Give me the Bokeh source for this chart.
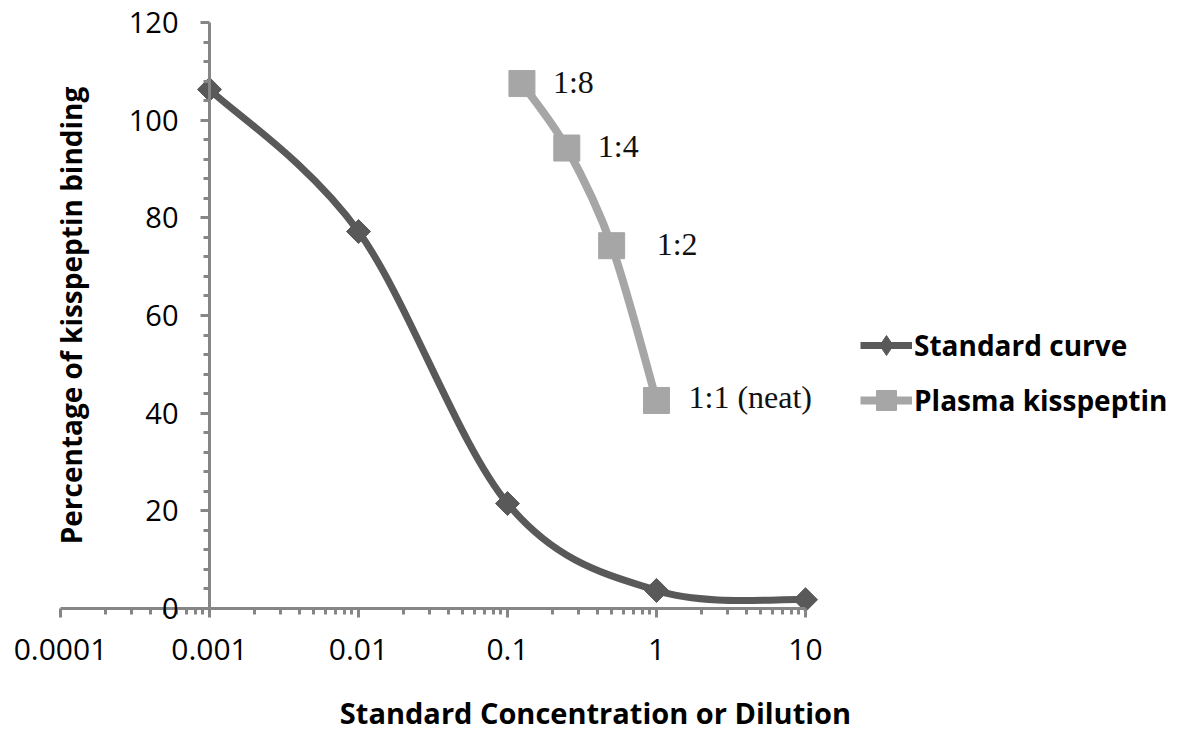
import numpy as np
from bokeh.plotting import figure
from bokeh.models import (Range1d, FixedTicker, Legend, LegendItem, Label,
                          ColumnDataSource, CustomJSTickFormatter)
from bokeh.core.properties import value
from bokeh.embed import file_html
from bokeh.resources import INLINE

# ---------------- data ----------------
std_conc = [0.001, 0.01, 0.1, 1, 10]
std_binding = [106.3, 77.2, 21.5, 3.7, 1.8]

plasma_dilution = [0.125, 0.25, 0.5, 1]
plasma_binding = [107.5, 94.3, 74.3, 42.6]
plasma_labels = ["1:8", "1:4", "1:2", "1:1 (neat)"]

x_ticks = [0.0001, 0.001, 0.01, 0.1, 1, 10]
y_ticks = [0, 20, 40, 60, 80, 100, 120]

x_title = "Standard Concentration or Dilution"
y_title = "Percentage of kisspeptin binding"
series_names = ["Standard curve", "Plasma kisspeptin"]

# ---------------- layout / styles ----------------
W, H = 1182, 732
YAXIS_PX, DECADE_PX = 209.0, 149.0     # pixel of x=0.001, pixels per decade
ZERO_PX, UNIT_PX = 608.0, 4.883        # pixel of y=0, pixels per y unit
label_dx = [31, 31, 45, 32]
label_dy = [-2, -2, -2, -3]
STD_COLOR = "#595959"
PL_COLOR = "#a6a6a6"
AXIS_COLOR = "#868686"
FONT = "Open Sans"

x_lo = 10 ** (-3 - YAXIS_PX / DECADE_PX)
x_hi = 10 ** (-3 + (W - YAXIS_PX) / DECADE_PX)
y_hi = ZERO_PX / UNIT_PX
y_lo = -(H - ZERO_PX) / UNIT_PX


def smooth_segments(xs, ys, t=1.0 / 6.0):
    """Bezier control points (Catmull-Rom style smoothing) in log-x space."""
    lx = np.log10(np.asarray(xs, dtype=float))
    y = np.asarray(ys, dtype=float)
    n = len(lx)
    out = dict(x0=[], y0=[], x1=[], y1=[], cx0=[], cy0=[], cx1=[], cy1=[])
    for i in range(n - 1):
        i0, i3 = max(i - 1, 0), min(i + 2, n - 1)
        c1x = lx[i] + (lx[i + 1] - lx[i0]) * t
        c1y = y[i] + (y[i + 1] - y[i0]) * t
        c2x = lx[i + 1] - (lx[i3] - lx[i]) * t
        c2y = y[i + 1] - (y[i3] - y[i]) * t
        out["x0"].append(10 ** lx[i]); out["y0"].append(y[i])
        out["x1"].append(10 ** lx[i + 1]); out["y1"].append(y[i + 1])
        out["cx0"].append(10 ** c1x); out["cy0"].append(c1y)
        out["cx1"].append(10 ** c2x); out["cy1"].append(c2y)
    return ColumnDataSource(out)


p = figure(width=W, height=H, x_axis_type="log",
           x_range=Range1d(x_lo, x_hi), y_range=Range1d(y_lo, y_hi),
           output_backend="svg", toolbar_location=None, title=None,
           min_border_left=0, min_border_right=0,
           min_border_top=0, min_border_bottom=0)
p.outline_line_color = None
p.xgrid.visible = False
p.ygrid.visible = False
p.background_fill_color = "white"
p.border_fill_color = "white"

# ---------------- axes ----------------
xa = p.xaxis[0]
xa.fixed_location = 0
xa.bounds = (x_ticks[0], x_ticks[-1])
xa.ticker = FixedTicker(ticks=x_ticks,
                        minor_ticks=[m * d for d in [1e-4, 1e-3, 1e-2, 1e-1, 1]
                                     for m in range(2, 10)])
xa.formatter = CustomJSTickFormatter(code="return tick.toString();")

ya = p.yaxis[0]
ya.fixed_location = 0.001
ya.bounds = (y_ticks[0], y_ticks[-1])
ya.ticker = FixedTicker(ticks=y_ticks,
                        minor_ticks=[v for v in range(4, 120, 4) if v % 20])
ya.axis_label = y_title

for ax in (xa, ya):
    ax.axis_line_color = AXIS_COLOR
    ax.axis_line_width = 3
    ax.major_tick_line_color = AXIS_COLOR
    ax.major_tick_line_width = 3
    ax.minor_tick_line_color = AXIS_COLOR
    ax.minor_tick_line_width = 3
    ax.major_tick_in = 0
    ax.major_tick_out = 9
    ax.minor_tick_in = 0
    ax.minor_tick_out = 6
    ax.major_label_text_font = FONT
    ax.major_label_text_color = "black"
    ax.axis_label_text_font = FONT
    ax.axis_label_text_font_size = "28px"
    ax.axis_label_text_font_style = "bold"
    ax.axis_label_text_color = "black"

ya.major_label_text_font_size = "29px"
xa.major_label_text_font_size = "30px"
xa.major_label_standoff = 21
ya.major_label_standoff = 22
ya.axis_label_standoff = 36

# x-axis title (centred like the reference, under the whole chart area)
p.add_layout(Label(x=595, y=20, x_units="screen", y_units="screen",
                   text=x_title, text_align="center", text_baseline="middle",
                   text_font=FONT, text_font_size="29px",
                   text_font_style="bold", text_color="black"))

# ---------------- series ----------------
std_curve = smooth_segments(std_conc, std_binding)
pl_curve = smooth_segments(plasma_dilution, plasma_binding)

p.bezier(x0="x0", y0="y0", x1="x1", y1="y1", cx0="cx0", cy0="cy0",
         cx1="cx1", cy1="cy1", source=std_curve, line_color=STD_COLOR,
         line_width=7, line_cap="round")
p.bezier(x0="x0", y0="y0", x1="x1", y1="y1", cx0="cx0", cy0="cy0",
         cx1="cx1", cy1="cy1", source=pl_curve, line_color=PL_COLOR,
         line_width=8, line_cap="round")

p.scatter(std_conc, std_binding, marker="square", angle=np.pi / 4,
          size=17, fill_color=STD_COLOR, line_color=STD_COLOR)
p.scatter(plasma_dilution, plasma_binding, marker="square", size=26,
          fill_color=PL_COLOR, line_color=PL_COLOR)

lab_src = ColumnDataSource(dict(x=plasma_dilution, y=plasma_binding,
                                t=plasma_labels, dx=label_dx, dy=label_dy))
p.text(x="x", y="y", text="t", x_offset="dx", y_offset="dy", source=lab_src,
       text_font=value("Liberation Serif"), text_font_size="32px",
       text_color="#111111", text_baseline="middle", text_align="left")

# legend proxies (NaN data: nothing drawn in the plot, styled like the series)
nan = [np.nan]
std_leg_line = p.line(x=nan, y=nan, line_color=STD_COLOR, line_width=7)
pl_leg_line = p.line(x=nan, y=nan, line_color=PL_COLOR, line_width=8)
std_leg_mk = p.scatter(x=nan, y=nan, marker="diamond", size=20,
                       fill_color=STD_COLOR, line_color=STD_COLOR)
pl_leg_mk = p.scatter(x=nan, y=nan, marker="square", size=20,
                      fill_color=PL_COLOR, line_color=PL_COLOR)

legend = Legend(items=[
    LegendItem(label=series_names[0], renderers=[std_leg_line, std_leg_mk]),
    LegendItem(label=series_names[1], renderers=[pl_leg_line, pl_leg_mk]),
], location=(860, 307))
legend.glyph_width = 52
legend.glyph_height = 50
legend.spacing = 5
legend.padding = 0
legend.margin = 0
legend.label_standoff = 2
legend.border_line_color = None
legend.background_fill_alpha = 0
legend.label_text_font = FONT
legend.label_text_font_size = "28px"
legend.label_text_font_style = "bold"
legend.label_text_color = "black"
p.add_layout(legend, "center")

open("out.html", "w").write(file_html(p, INLINE))
